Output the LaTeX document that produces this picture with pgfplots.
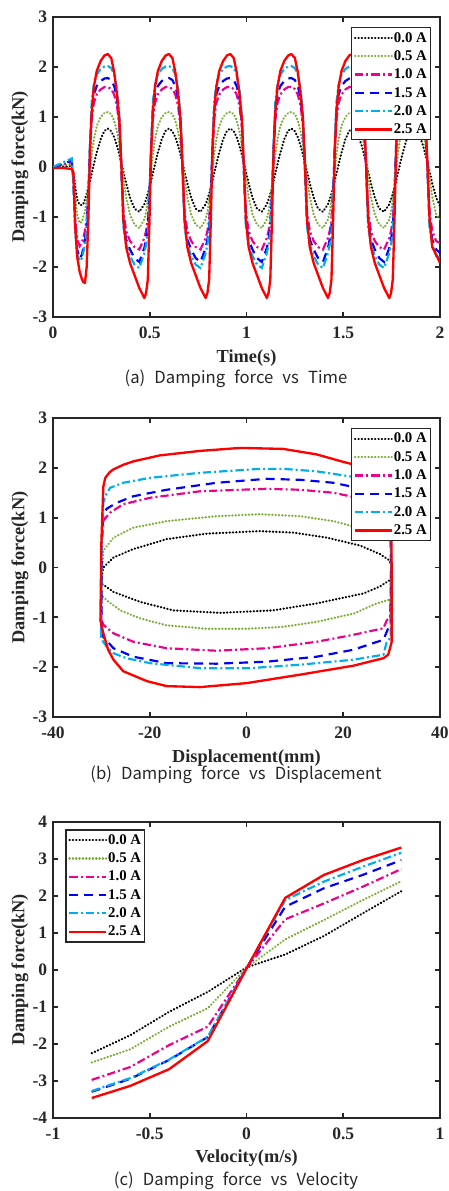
\documentclass[border=0pt]{standalone}
\usepackage{fontspec}
\setmainfont{Liberation Serif}
\newfontfamily\capfont{Noto Sans CJK KR}
\newcommand\capsty{\capfont\fontsize{10}{12}\selectfont\spaceskip=0.55em\relax}
\usepackage{pgfplots}
\usepackage{pgfplotstable}
\pgfplotsset{compat=1.18}

\definecolor{mgreen}{rgb}{0.466,0.674,0.188}
\definecolor{axgray}{HTML}{262626}

\tikzset{
  s0/.style={black, line width=1.35pt, line cap=round, dash pattern=on 0.2pt off 1.8pt},
  s1/.style={mgreen, line width=1.35pt, line cap=round, dash pattern=on 0.2pt off 1.8pt},
  s2/.style={magenta, line width=1.3pt, dash pattern=on 5pt off 1.8pt on 1.2pt off 1.8pt},
  s3/.style={blue, line width=1.3pt, dash pattern=on 5.4pt off 3.6pt},
  s4/.style={cyan, line width=1.3pt, dash pattern=on 5pt off 1.8pt on 1.2pt off 1.8pt},
  s5/.style={red, line width=1.4pt},
  captext/.style={text=black!85},
}

\pgfplotsset{
  panel/.style={
    scale only axis, width=232.2pt,
    axis line style={line width=1.1pt, axgray},
    every tick/.style={line width=1.1pt, axgray},
    tick align=inside, major tick length=3pt,
    tick label style={font=\fontsize{10.5}{12}\selectfont\bfseries, axgray},
    xticklabel style={yshift=-2.5pt},
    label style={font=\fontsize{11}{13}\selectfont\bfseries, axgray},
    /pgf/number format/assume math mode=true,
    xlabel style={at={(axis description cs:0.5,-0.137)}, anchor=center},
    ylabel style={at={(axis description cs:-0.0853,0.5)}, anchor=center},
    legend cell align=left,
    legend image code/.code={\draw[##1] (0pt,0pt) -- (22pt,0pt);},
    legend style={font=\fontsize{8.9}{10}\selectfont\bfseries, draw=axgray,
      line width=0.9pt, inner sep=1.5pt, row sep=1.8pt,
      nodes={inner sep=0.6pt, text height=6.5pt, text depth=1.5pt}},
  }
}

% time history: t, 0.0A, 0.5A, 1.0A, 1.5A, 2.0A, 2.5A
\pgfplotstableread{
t a b c d e f
0.000 0.000 0.00 0.00 0.00 0.00 -0.02
0.050 0.010 0.03 0.05 0.06 0.09 -0.02
0.097 0.020 0.06 0.10 0.13 0.17 -0.04
0.105 -0.100 -0.15 -0.20 -0.25 -0.30 -0.10
0.115 -0.400 -0.60 -1.05 -1.20 -1.30 -1.20
0.125 -0.650 -0.95 -1.45 -1.65 -1.75 -1.80
0.138 -0.760 -1.12 -1.58 -1.83 -1.88 -2.10
0.150 -0.760 -1.10 -1.50 -1.75 -1.82 -2.25
0.156 -0.745 -1.00 -1.42 -1.62 -1.72 -2.30
0.165 -0.648 -0.90 -1.28 -1.45 -1.55 -2.32
0.174 -0.533 -0.65 -1.05 -1.20 -1.30 -2.00
0.183 -0.402 -0.35 -0.50 -0.55 -0.60 -1.00
0.191 -0.277 -0.05 0.30 0.40 0.45 0.30
0.200 -0.130 0.25 0.95 1.15 1.30 1.10
0.211 0.051 0.55 1.28 1.45 1.65 1.60
0.226 0.289 0.82 1.45 1.62 1.85 1.92
0.246 0.555 1.00 1.55 1.72 1.96 2.12
0.266 0.723 1.08 1.60 1.77 2.01 2.23
0.283 0.770 1.10 1.60 1.78 2.02 2.26
0.301 0.717 1.06 1.56 1.74 1.98 2.18
0.316 0.596 0.93 1.45 1.62 1.85 1.90
0.331 0.418 0.70 1.22 1.38 1.55 1.45
0.343 0.244 0.42 0.80 0.90 1.00 0.95
0.352 0.101 0.17 0.10 0.10 0.10 0.15
0.364 -0.097 -0.20 -0.90 -1.10 -1.20 -1.05
0.378 -0.325 -0.60 -1.28 -1.45 -1.55 -1.60
0.398 -0.612 -0.95 -1.48 -1.65 -1.78 -1.92
0.421 -0.834 -1.15 -1.60 -1.82 -1.95 -2.16
0.446 -0.896 -1.22 -1.65 -1.90 -2.02 -2.42
0.472 -0.745 -1.05 -1.42 -1.62 -1.72 -2.62
0.481 -0.648 -0.90 -1.28 -1.45 -1.55 -2.52
0.490 -0.533 -0.65 -1.05 -1.20 -1.30 -2.25
0.499 -0.402 -0.35 -0.50 -0.55 -0.60 -1.00
0.507 -0.277 -0.05 0.30 0.40 0.45 0.30
0.516 -0.130 0.25 0.95 1.15 1.30 1.10
0.527 0.051 0.55 1.28 1.45 1.65 1.60
0.542 0.289 0.82 1.45 1.62 1.85 1.92
0.562 0.555 1.00 1.55 1.72 1.96 2.12
0.582 0.723 1.08 1.60 1.77 2.01 2.23
0.599 0.770 1.10 1.60 1.78 2.02 2.26
0.617 0.717 1.06 1.56 1.74 1.98 2.18
0.632 0.596 0.93 1.45 1.62 1.85 1.90
0.647 0.418 0.70 1.22 1.38 1.55 1.45
0.659 0.244 0.42 0.80 0.90 1.00 0.95
0.668 0.101 0.17 0.10 0.10 0.10 0.15
0.680 -0.097 -0.20 -0.90 -1.10 -1.20 -1.05
0.694 -0.325 -0.60 -1.28 -1.45 -1.55 -1.60
0.714 -0.612 -0.95 -1.48 -1.65 -1.78 -1.92
0.737 -0.834 -1.15 -1.60 -1.82 -1.95 -2.16
0.762 -0.896 -1.22 -1.65 -1.90 -2.02 -2.42
0.789 -0.745 -1.05 -1.42 -1.62 -1.72 -2.62
0.798 -0.648 -0.90 -1.28 -1.45 -1.55 -2.52
0.807 -0.533 -0.65 -1.05 -1.20 -1.30 -2.25
0.816 -0.402 -0.35 -0.50 -0.55 -0.60 -1.00
0.824 -0.277 -0.05 0.30 0.40 0.45 0.30
0.833 -0.130 0.25 0.95 1.15 1.30 1.10
0.844 0.051 0.55 1.28 1.45 1.65 1.60
0.859 0.289 0.82 1.45 1.62 1.85 1.92
0.879 0.555 1.00 1.55 1.72 1.96 2.12
0.899 0.723 1.08 1.60 1.77 2.01 2.23
0.916 0.770 1.10 1.60 1.78 2.02 2.26
0.934 0.717 1.06 1.56 1.74 1.98 2.18
0.949 0.596 0.93 1.45 1.62 1.85 1.90
0.964 0.418 0.70 1.22 1.38 1.55 1.45
0.976 0.244 0.42 0.80 0.90 1.00 0.95
0.985 0.101 0.17 0.10 0.10 0.10 0.15
0.997 -0.097 -0.20 -0.90 -1.10 -1.20 -1.05
1.011 -0.325 -0.60 -1.28 -1.45 -1.55 -1.60
1.031 -0.612 -0.95 -1.48 -1.65 -1.78 -1.92
1.054 -0.834 -1.15 -1.60 -1.82 -1.95 -2.16
1.079 -0.896 -1.22 -1.65 -1.90 -2.02 -2.42
1.105 -0.745 -1.05 -1.42 -1.62 -1.72 -2.62
1.114 -0.648 -0.90 -1.28 -1.45 -1.55 -2.52
1.123 -0.533 -0.65 -1.05 -1.20 -1.30 -2.25
1.132 -0.402 -0.35 -0.50 -0.55 -0.60 -1.00
1.140 -0.277 -0.05 0.30 0.40 0.45 0.30
1.149 -0.130 0.25 0.95 1.15 1.30 1.10
1.160 0.051 0.55 1.28 1.45 1.65 1.60
1.175 0.289 0.82 1.45 1.62 1.85 1.92
1.195 0.555 1.00 1.55 1.72 1.96 2.12
1.215 0.723 1.08 1.60 1.77 2.01 2.23
1.232 0.770 1.10 1.60 1.78 2.02 2.26
1.250 0.717 1.06 1.56 1.74 1.98 2.18
1.265 0.596 0.93 1.45 1.62 1.85 1.90
1.280 0.418 0.70 1.22 1.38 1.55 1.45
1.292 0.244 0.42 0.80 0.90 1.00 0.95
1.301 0.101 0.17 0.10 0.10 0.10 0.15
1.313 -0.097 -0.20 -0.90 -1.10 -1.20 -1.05
1.327 -0.325 -0.60 -1.28 -1.45 -1.55 -1.60
1.347 -0.612 -0.95 -1.48 -1.65 -1.78 -1.92
1.370 -0.834 -1.15 -1.60 -1.82 -1.95 -2.16
1.395 -0.896 -1.22 -1.65 -1.90 -2.02 -2.42
1.421 -0.745 -1.05 -1.42 -1.62 -1.72 -2.62
1.430 -0.648 -0.90 -1.28 -1.45 -1.55 -2.52
1.439 -0.533 -0.65 -1.05 -1.20 -1.30 -2.25
1.448 -0.402 -0.35 -0.50 -0.55 -0.60 -1.00
1.456 -0.277 -0.05 0.30 0.40 0.45 0.30
1.465 -0.130 0.25 0.95 1.15 1.30 1.10
1.476 0.051 0.55 1.28 1.45 1.65 1.60
1.491 0.289 0.82 1.45 1.62 1.85 1.92
1.511 0.555 1.00 1.55 1.72 1.96 2.12
1.531 0.723 1.08 1.60 1.77 2.01 2.23
1.548 0.770 1.10 1.60 1.78 2.02 2.26
1.566 0.717 1.06 1.56 1.74 1.98 2.18
1.581 0.596 0.93 1.45 1.62 1.85 1.90
1.596 0.418 0.70 1.22 1.38 1.55 1.45
1.608 0.244 0.42 0.80 0.90 1.00 0.95
1.617 0.101 0.17 0.10 0.10 0.10 0.15
1.629 -0.097 -0.20 -0.90 -1.10 -1.20 -1.05
1.643 -0.325 -0.60 -1.28 -1.45 -1.55 -1.60
1.663 -0.612 -0.95 -1.48 -1.65 -1.78 -1.92
1.686 -0.834 -1.15 -1.60 -1.82 -1.95 -2.16
1.711 -0.896 -1.22 -1.65 -1.90 -2.02 -2.42
1.738 -0.745 -1.05 -1.42 -1.62 -1.72 -2.62
1.747 -0.648 -0.90 -1.28 -1.45 -1.55 -2.52
1.756 -0.533 -0.65 -1.05 -1.20 -1.30 -2.25
1.765 -0.402 -0.35 -0.50 -0.55 -0.60 -1.00
1.773 -0.277 -0.05 0.30 0.40 0.45 0.30
1.782 -0.130 0.25 0.95 1.15 1.30 1.10
1.793 0.051 0.55 1.28 1.45 1.65 1.60
1.808 0.289 0.82 1.45 1.62 1.85 1.92
1.828 0.555 1.00 1.55 1.72 1.96 2.12
1.848 0.723 1.08 1.60 1.77 2.01 2.23
1.865 0.770 1.10 1.60 1.78 2.02 2.26
1.883 0.717 1.06 1.56 1.74 1.98 2.18
1.898 0.596 0.93 1.45 1.62 1.85 1.90
1.913 0.418 0.70 1.22 1.38 1.55 1.45
1.925 0.244 0.42 0.80 0.90 1.00 0.95
1.934 0.101 0.17 0.10 0.10 0.10 0.15
1.946 -0.097 -0.20 -0.90 -1.10 -1.20 -1.05
1.960 -0.325 -0.60 -1.28 -1.45 -1.55 -1.60
1.980 -0.612 -0.95 -1.48 -1.65 -1.78 -1.75
2.000 -0.780 -1.05 -1.52 -1.72 -1.82 -1.92
}\timedata

\begin{document}
\begin{tikzpicture}
\useasboundingbox (0,0) rectangle (269.4pt,-714.6pt);

% (a) force vs time
\begin{axis}[panel, at={(31.8pt,-190.2pt)}, anchor=south west, height=180pt,
  xmin=0, xmax=2, ymin=-3, ymax=3, xtick={0,0.5,1,1.5,2}, ytick={-3,-2,...,3},
  xlabel={Time(s)}, ylabel={Damping force(kN)},
  legend style={at={(axis description cs:0.977,0.967)}, anchor=north east}]
  \addplot[s0] table[x=t, y=a] {\timedata};
  \addplot[s1] table[x=t, y=b] {\timedata};
  \addplot[s2] table[x=t, y=c] {\timedata};
  \addplot[s3] table[x=t, y=d] {\timedata};
  \addplot[s4] table[x=t, y=e] {\timedata};
  \addplot[s5, line join=round] table[x=t, y=f] {\timedata};
  \legend{0.0 A, 0.5 A, 1.0 A, 1.5 A, 2.0 A, 2.5 A}
\end{axis}
\node[captext] at (141.6pt,-227.4pt) {\capsty (a) Damping force vs Time};

% (b) force vs displacement
\begin{axis}[panel, at={(31.8pt,-430.2pt)}, anchor=south west, height=179.4pt,
  xmin=-40, xmax=40, ymin=-3, ymax=3, xtick={-40,-20,0,20,40}, ytick={-3,-2,...,3},
  xlabel={Displacement(mm)}, ylabel={Damping force(kN)},
  legend style={at={(axis description cs:0.977,0.967)}, anchor=north east}]
  \addplot[s0] coordinates {(-30.0,-0.32) (-29.8,-0.10) (-29.6,0.00) (-27.5,0.20) (-23.4,0.37) (-16.5,0.57) (-8.2,0.68) (2.8,0.73) (9.7,0.70) (16.6,0.60) (23.5,0.44) (27.6,0.27) (29.3,0.16) (30.0,0.05) (30.0,-0.23) (27.6,-0.38) (24.2,-0.52) (14.5,-0.72) (5.5,-0.86) (-5.5,-0.91) (-15.1,-0.86) (-22.0,-0.69) (-27.5,-0.49) (-30.0,-0.32)};
  \addplot[s1] coordinates {(-29.9,-0.56) (-29.8,0.00) (-29.6,0.34) (-27.5,0.60) (-23.4,0.80) (-16.5,0.93) (-6.2,1.03) (2.8,1.07) (11.1,1.03) (18.0,0.93) (21.4,0.84) (26.0,0.70) (29.0,0.58) (29.9,0.50) (30.0,0.00) (30.0,-0.63) (26.9,-0.72) (22.3,-0.92) (14.5,-1.09) (7.6,-1.19) (0.0,-1.23) (-8.2,-1.23) (-16.5,-1.16) (-22.0,-1.02) (-26.1,-0.86) (-28.9,-0.66) (-29.9,-0.56)};
  \addplot[s2] coordinates {(-30.0,-1.05) (-29.9,0.50) (-29.6,0.94) (-28.2,1.10) (-25.5,1.27) (-19.9,1.40) (-9.6,1.53) (4.2,1.58) (11.1,1.56) (18.0,1.50) (21.4,1.43) (26.0,1.33) (29.0,1.22) (29.8,1.00) (29.9,0.00) (29.7,-1.00) (29.0,-1.06) (28.3,-1.22) (22.1,-1.35) (14.5,-1.49) (4.2,-1.62) (-6.2,-1.67) (-16.5,-1.62) (-23.4,-1.49) (-27.5,-1.32) (-29.6,-1.15) (-30.0,-1.05)};
  \addplot[s3] coordinates {(-30.0,-1.25) (-29.9,0.60) (-29.6,1.05) (-28.9,1.18) (-26.8,1.30) (-23.4,1.43) (-16.5,1.56) (-6.2,1.70) (4.2,1.78) (11.1,1.76) (18.0,1.70) (21.4,1.63) (26.0,1.50) (28.8,1.40) (29.7,1.25) (29.9,0.00) (29.8,-1.10) (29.0,-1.29) (28.3,-1.45) (22.1,-1.65) (14.5,-1.79) (4.2,-1.89) (-6.2,-1.93) (-16.5,-1.92) (-23.4,-1.79) (-27.5,-1.62) (-29.6,-1.39) (-30.0,-1.25)};
  \addplot[s4] coordinates {(-30.1,-1.39) (-29.9,0.50) (-29.6,1.30) (-29.2,1.43) (-28.2,1.60) (-25.5,1.70) (-19.9,1.80) (-9.6,1.90) (2.8,1.98) (7.6,1.98) (14.5,1.93) (21.4,1.83) (26.0,1.72) (28.8,1.62) (29.7,1.45) (29.9,0.00) (29.8,-1.40) (29.0,-1.49) (28.3,-1.75) (22.1,-1.85) (11.1,-1.95) (0.7,-2.02) (-9.6,-2.02) (-19.9,-1.92) (-24.8,-1.82) (-27.5,-1.72) (-28.9,-1.59) (-29.9,-1.45) (-30.1,-1.39)};
  \addplot[s5, line join=round] coordinates {(-30.2,-1.06) (-30.0,0.50) (-29.6,1.62) (-29.2,1.80) (-28.2,1.92) (-27.5,1.97) (-25.5,2.06) (-23.4,2.13) (-17.9,2.25) (-9.6,2.34) (-1.3,2.40) (7.6,2.38) (14.5,2.27) (20.0,2.12) (24.0,2.02) (27.5,1.94) (29.3,1.88) (29.9,1.60) (30.0,0.00) (30.0,-1.50) (29.3,-1.75) (28.3,-1.82) (22.1,-1.97) (11.1,-2.15) (0.0,-2.32) (-9.6,-2.40) (-16.5,-2.38) (-20.6,-2.28) (-25.5,-2.08) (-27.5,-1.85) (-28.6,-1.65) (-29.6,-1.32) (-30.2,-1.06)};
  \legend{0.0 A, 0.5 A, 1.0 A, 1.5 A, 2.0 A, 2.5 A}
\end{axis}
\node[captext] at (141.6pt,-465pt) {\capsty (b) Damping force vs Displacement};

% (c) force vs velocity
\begin{axis}[panel, at={(31.8pt,-670.8pt)}, anchor=south west, height=177.6pt,
  xmin=-1, xmax=1, ymin=-4, ymax=4, xtick={-1,-0.5,0,0.5,1}, ytick={-4,-3,...,4},
  xlabel={Velocity(m/s)}, ylabel={Damping force(kN)},
  legend style={at={(axis description cs:0.031,0.976)}, anchor=north west}]
  \addplot[s0] coordinates {(-0.8,-2.25) (-0.6,-1.76) (-0.4,-1.13) (-0.2,-0.59) (0,0.07) (0.2,0.42) (0.4,0.92) (0.6,1.53) (0.8,2.13)};
  \addplot[s1] coordinates {(-0.8,-2.50) (-0.6,-2.14) (-0.4,-1.53) (-0.2,-1.03) (0,0.06) (0.2,0.83) (0.4,1.35) (0.6,1.89) (0.8,2.40)};
  \addplot[s2] coordinates {(-0.8,-2.97) (-0.6,-2.62) (-0.4,-2.03) (-0.2,-1.53) (0,0.05) (0.2,1.37) (0.4,1.80) (0.6,2.25) (0.8,2.73)};
  \addplot[s3] coordinates {(-0.8,-3.29) (-0.6,-2.94) (-0.4,-2.43) (-0.2,-1.81) (0,0.05) (0.2,1.71) (0.4,2.21) (0.6,2.57) (0.8,2.97)};
  \addplot[s4] coordinates {(-0.8,-3.27) (-0.6,-2.92) (-0.4,-2.42) (-0.2,-1.80) (0,0.05) (0.2,1.89) (0.4,2.39) (0.6,2.79) (0.8,3.17)};
  \addplot[s5, line join=round] coordinates {(-0.8,-3.46) (-0.6,-3.13) (-0.4,-2.68) (-0.2,-1.92) (0,0.04) (0.2,1.95) (0.4,2.57) (0.6,2.97) (0.8,3.31)};
  \legend{0.0 A, 0.5 A, 1.0 A, 1.5 A, 2.0 A, 2.5 A}
\end{axis}
\node[captext] at (141.6pt,-708.6pt) {\capsty (c) Damping force vs Velocity};
\end{tikzpicture}
\end{document}
